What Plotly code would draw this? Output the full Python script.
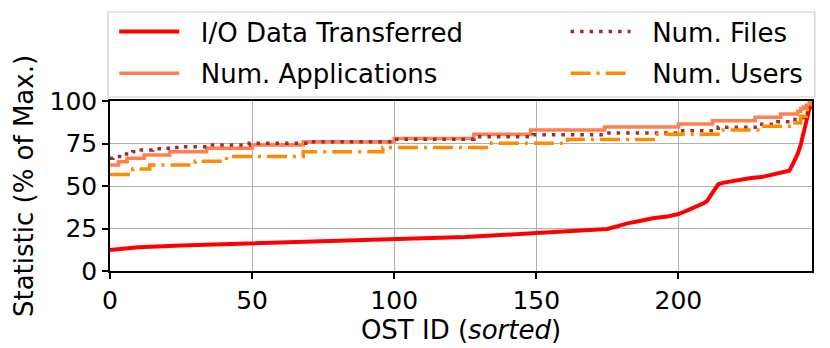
import plotly.graph_objects as go

# ---- data ----
io_x = [0, 10, 25, 50, 75, 100, 125, 150, 165, 175, 179, 182, 186, 191, 196, 200,
        203, 206, 209, 210, 211, 212, 213, 214, 216, 219, 225, 230, 234, 238, 239,
        240, 241, 242, 243, 244, 245, 246, 247]
io_y = [12.4, 14.0, 15.0, 16.3, 17.3, 18.6, 20.0, 22.3, 23.8, 24.7, 26.5, 28.0,
        29.3, 31.0, 32.0, 33.5, 35.5, 37.5, 40.0, 41.0, 43.5, 46.5, 49.5, 51.0,
        52.0, 53.0, 54.5, 55.5, 57.0, 58.3, 59.0, 62.0, 65.0, 69.0, 74.0, 82.0,
        88.0, 95.0, 100.0]

apps_x = [0, 3, 6, 12, 21, 34, 50, 68, 100, 128, 148, 174, 200, 212, 227, 236,
          242, 243, 244, 245, 246, 247]
apps_y = [62.4, 64.3, 66.3, 68.2, 70.2, 72.2, 74.1, 76.1, 78.0, 80.4, 82.9, 84.7,
          86.5, 88.4, 90.4, 92.4, 94.0, 95.5, 96.5, 97.5, 99.0, 100.0]

files_x = [0, 1, 4, 8, 11, 15, 18, 22, 25, 36, 49, 70, 100, 128, 149, 174, 199,
           214, 227, 235, 241, 244, 246, 247]
files_y = [66.3, 67.3, 68.8, 70.2, 71.2, 71.9, 72.2, 72.7, 73.1, 74.1, 75.1, 76.1,
           77.5, 79.0, 80.2, 81.2, 82.5, 84.5, 86.3, 87.8, 90.2, 93.0, 96.5, 100.0]

users_x = [0, 8, 14, 30, 41, 68, 96, 133, 161, 192, 215, 229, 241, 243, 245, 247]
users_y = [56.8, 60.0, 62.4, 64.6, 67.4, 70.2, 72.7, 75.1, 77.4, 80.5, 82.9, 85.1,
           87.0, 91.0, 95.0, 100.0]

x_ticks = [0, 50, 100, 150, 200]
y_ticks = [0, 25, 50, 75, 100]

FONT = "DejaVu Sans"
SP = "\u00a0\u00a0"

fig = go.Figure()
fig.add_trace(go.Scatter(x=io_x, y=io_y, mode="lines", name=SP + "I/O Data Transferred",
                         line=dict(color="#FF0000", width=4),
                         legend="legend", legendgroup="a"))
fig.add_trace(go.Scatter(x=apps_x, y=apps_y, mode="lines", name=SP + "Num. Applications",
                         line=dict(color="#FF7F50", width=3.5, shape="hv"),
                         legend="legend", legendgroup="b"))
fig.add_trace(go.Scatter(x=files_x, y=files_y, mode="lines", name=SP + "Num. Files",
                         line=dict(color="#A52A2A", width=3.5, shape="hv", dash="3.5px,6px"),
                         legend="legend2", legendgroup="c"))
fig.add_trace(go.Scatter(x=users_x, y=users_y, mode="lines", name=SP + "Num. Users",
                         line=dict(color="#FF8C00", width=3.5, shape="hv",
                                   dash="20px,6px,3px,6px"),
                         legend="legend2", legendgroup="d"))

axis_common = dict(showline=True, linecolor="black", linewidth=1.5, mirror=True,
                   ticks="outside", ticklen=6, tickwidth=1.5, tickcolor="black",
                   showgrid=True, gridcolor="#b0b0b0", gridwidth=1,
                   zeroline=False, tickfont=dict(family=FONT, size=25, color="black"))

fig.update_xaxes(range=[0, 247], tickvals=x_ticks,
                 title=dict(text="OST ID (<i>sorted</i>)", standoff=4,
                            font=dict(family=FONT, size=26, color="black")),
                 **axis_common)
fig.update_yaxes(range=[0, 100], tickvals=y_ticks,
                 title=dict(text="Statistic (% of Max.)", standoff=8,
                            font=dict(family=FONT, size=26, color="black")),
                 **axis_common)

legend_common = dict(orientation="v", yanchor="top", y=1.547, xanchor="left",
                     itemwidth=60, tracegroupgap=5, bgcolor="rgba(0,0,0,0)",
                     borderwidth=0, font=dict(family=FONT, size=26, color="black"))

fig.update_layout(
    width=830, height=348,
    margin=dict(l=110, r=18, t=101, b=77, autoexpand=False),
    plot_bgcolor="white", paper_bgcolor="white",
    font=dict(family=FONT, size=26, color="black"),
    legend=dict(x=0.006, **legend_common),
    legend2=dict(x=0.649, **legend_common),
    shapes=[dict(type="rect", xref="paper", yref="paper",
                 x0=-0.003, x1=1.004, y0=1.0235, y1=1.5235,
                 line=dict(color="#cccccc", width=1.2),
                 fillcolor="rgba(255,255,255,0.8)", layer="above")],
)

fig.write_html("out.html")
